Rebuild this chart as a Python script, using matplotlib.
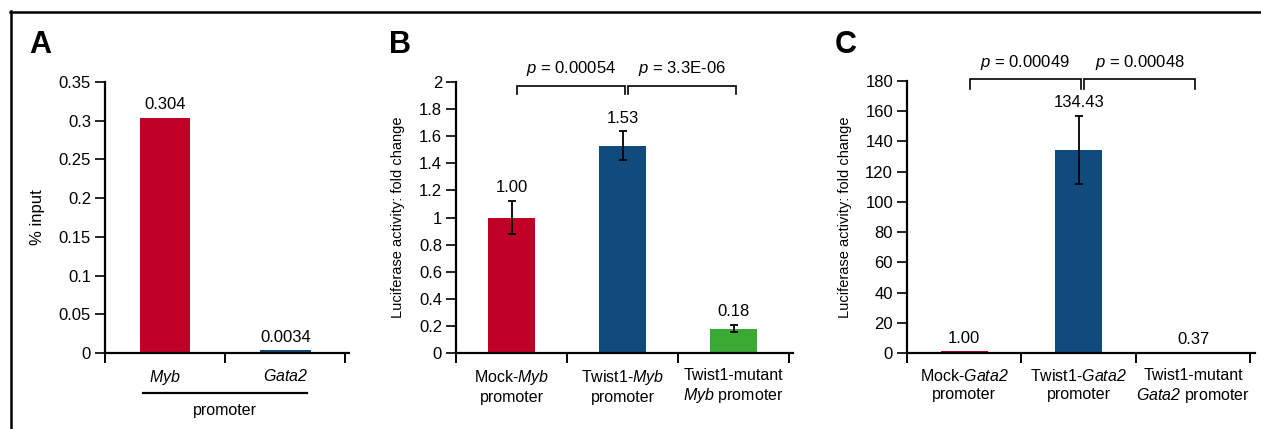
import matplotlib as mpl
mpl.use("Agg")
import matplotlib.pyplot as plt
from matplotlib.lines import Line2D

W, H = 1261, 429
RED, BLUE, GREEN = "#C00026", "#114A7C", "#3BAA35"

# panel A: ChIP % input
a_labels = ["$Myb$", "$Gata2$"]
a_vals = [0.304, 0.0034]
a_text = ["0.304", "0.0034"]

# panel B: Myb promoter luciferase
b_labels = ["Mock-$Myb$\npromoter", "Twist1-$Myb$\npromoter",
            "Twist1-mutant\n$Myb$ promoter"]
b_vals = [1.00, 1.53, 0.18]
b_errs = [0.125, 0.105, 0.028]
b_text = ["1.00", "1.53", "0.18"]
b_pvals = ["0.00054", "3.3E-06"]

# panel C: Gata2 promoter luciferase
c_labels = ["Mock-$Gata2$\npromoter", "Twist1-$Gata2$\npromoter",
            "Twist1-mutant\n$Gata2$ promoter"]
c_vals = [1.00, 134.43, 0.37]
c_errs = [0.0, 22.4, 0.0]
c_text = ["1.00", "134.43", "0.37"]
c_pvals = ["0.00049", "0.00048"]

# everything inside $...$ is italic (gene names and p), digits included
plt.rcParams.update({"font.family": "Liberation Sans", "font.size": 12,
                     "mathtext.fontset": "custom",
                     "mathtext.rm": "Liberation Sans:italic",
                     "mathtext.it": "Liberation Sans:italic",
                     "mathtext.default": "it",
                     "axes.linewidth": 1.6, "xtick.major.width": 1.4,
                     "ytick.major.width": 1.2})
LABEL_FS = 11.5


def box(l, t, r, b):
    return [l / W, 1 - b / H, (r - l) / W, (b - t) / H]


def style(ax, n, xmax, ymax, yticks, ylabel, labcx):
    for s in ("top", "right"):
        ax.spines[s].set_visible(False)
    ax.set_xlim(0, xmax); ax.set_ylim(0, ymax)
    ax.set_yticks(yticks)
    ax.set_xticks(range(n + 1))
    ax.set_xticklabels([])
    ax.tick_params(axis="x", which="major", direction="out", length=7)
    ax.tick_params(axis="y", direction="out", length=7, pad=3)
    ax.set_ylabel(ylabel, fontsize=10.5)
    ax.yaxis.set_label_coords(labcx, 0.5)


def cats(ax, x, labels):
    ax.set_xticks(x, minor=True)
    ax.set_xticklabels(labels, minor=True, fontsize=LABEL_FS)
    ax.tick_params(axis="x", which="minor", length=0, pad=11)


def values(ax, x, tops, texts):
    for xi, t, s in zip(x, tops, texts):
        ax.annotate(s, (xi, t), xytext=(0, 4), textcoords="offset points",
                    ha="center", va="bottom", fontsize=12)


def brackets(ax, x, pvals, ybar, yleg, ytxt):
    spans = [(x[0] + 0.05, x[1] + 0.02), (x[1] + 0.05, x[2] + 0.02)]
    for (x0, x1), p in zip(spans, pvals):
        ax.plot([x0, x0, x1, x1], [yleg, ybar, ybar, yleg], color="black", lw=1.2,
                clip_on=False, solid_joinstyle="miter")
        ax.text((x0 + x1) / 2, ytxt, f"$p$ = {p}", ha="center", va="center",
                fontsize=12, clip_on=False)


fig = plt.figure(figsize=(W / 100, H / 100), dpi=100)

# outer frame (top + left)
fig.add_artist(Line2D([10 / W, 1], [1 - 11.5 / H] * 2, color="black", lw=1.8,
                      transform=fig.transFigure))
fig.add_artist(Line2D([11 / W] * 2, [1 - 11 / H, 0], color="black", lw=1.8,
                      transform=fig.transFigure))
for lab, px in (("A", 29), ("B", 389), ("C", 835)):
    fig.text(px / W, 1 - 30 / H, lab, fontsize=22, fontweight="bold", va="top", ha="left")

# ---- A
ax = fig.add_axes(box(105, 82, 349, 353))
xa = [i + 0.5 for i in range(len(a_vals))]
ax.bar(xa, a_vals, width=0.42, color=[RED, BLUE])
style(ax, len(a_vals), 2.03, 0.35, [0, 0.05, 0.1, 0.15, 0.2, 0.25, 0.3, 0.35], "% input", -0.246)
ax.set_yticklabels(["0", "0.05", "0.1", "0.15", "0.2", "0.25", "0.3", "0.35"])
cats(ax, xa, a_labels)
ax.set_ylabel("% input", fontsize=12)
values(ax, xa, a_vals, a_text)
trans = ax.get_xaxis_transform()
ax.plot([xa[0] - 0.18, xa[-1] + 0.18], [-0.148, -0.148], color="black", lw=1.6,
        transform=trans, clip_on=False)
ax.text(sum(xa) / 2, -0.212, "promoter", transform=trans, ha="center", va="center",
        fontsize=LABEL_FS)

# ---- B
ax = fig.add_axes(box(456, 82, 793, 353))
xb = [i + 0.5 for i in range(len(b_vals))]
ax.bar(xb, b_vals, width=0.42, color=[RED, BLUE, GREEN])
ax.errorbar(xb, b_vals, yerr=b_errs, fmt="none", ecolor="black", elinewidth=1.3,
            capsize=3.2, capthick=1.3)
style(ax, len(b_vals), 3.036, 2.0, [0, 0.2, 0.4, 0.6, 0.8, 1, 1.2, 1.4, 1.6, 1.8, 2],
      "Luciferase activity: fold change", -0.151)
ax.set_yticklabels(["0", "0.2", "0.4", "0.6", "0.8", "1", "1.2", "1.4", "1.6", "1.8", "2"])
cats(ax, xb, b_labels)
values(ax, xb, [v + e for v, e in zip(b_vals, b_errs)], b_text)
brackets(ax, xb, b_pvals, 1.97, 1.91, 2.1)

# ---- C
ax = fig.add_axes(box(907, 81, 1255, 353))
xc = [i + 0.5 for i in range(len(c_vals))]
ax.bar(xc, c_vals, width=0.41, color=[RED, BLUE, GREEN])
ax.errorbar(xc[1:2], c_vals[1:2], yerr=c_errs[1:2], fmt="none", ecolor="black",
            elinewidth=1.3, capsize=3.2, capthick=1.3)
style(ax, len(c_vals), 3.04, 180, list(range(0, 181, 20)),
      "Luciferase activity: fold change", -0.158)
cats(ax, xc, c_labels)
values(ax, xc, [v + e for v, e in zip(c_vals, c_errs)], c_text)
brackets(ax, xc, c_pvals, 181.3, 174.5, 192)

fig.savefig("out.png", dpi=100, facecolor="white")
